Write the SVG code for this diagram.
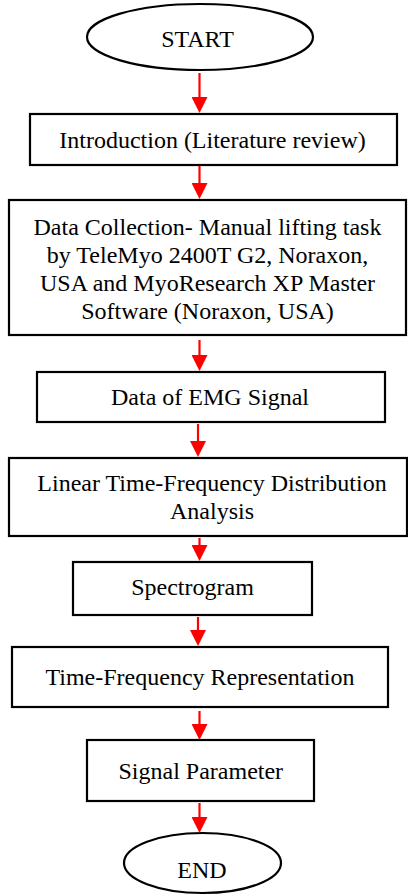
<svg xmlns="http://www.w3.org/2000/svg" width="408" height="896" viewBox="0 0 408 896">
<style>
.box{fill:#fff;stroke:#000;stroke-width:2.2}
.t{font-family:"Liberation Serif","Times New Roman",serif;font-size:24px;fill:#000;text-anchor:middle}
.c{stroke:#ff0000;stroke-width:2.2;fill:none}
</style>
<defs>
<marker id="ah" viewBox="0 0 16 16" refX="3" refY="8" markerWidth="16" markerHeight="16" markerUnits="userSpaceOnUse" orient="auto">
<path d="M0,0 L16,8 L0,16 z" fill="#ff0000"/>
</marker>
</defs>
<rect width="408" height="896" fill="#fff"/>
<g id="start"><ellipse class="box" cx="200" cy="37" rx="113" ry="33"/><text class="t" x="197.5" y="47">START</text></g>
<g id="intro"><rect class="box" x="30" y="114" width="367" height="51"/><text class="t" x="212.5" y="148">Introduction (Literature review)</text></g>
<g id="datacollection"><rect class="box" x="9" y="200" width="397" height="135"/>
<text class="t" x="207.5" y="235">Data Collection- Manual lifting task</text>
<text class="t" x="207.5" y="263">by TeleMyo 2400T G2, Noraxon,</text>
<text class="t" x="207.5" y="291">USA and MyoResearch XP Master</text>
<text class="t" x="207.5" y="319">Software (Noraxon, USA)</text></g>
<g id="emg"><rect class="box" x="37" y="372" width="348" height="50"/><text class="t" x="210" y="405">Data of EMG Signal</text></g>
<g id="linear"><rect class="box" x="9" y="458" width="398" height="78"/>
<text class="t" x="212" y="491">Linear Time-Frequency Distribution</text>
<text class="t" x="212" y="519">Analysis</text></g>
<g id="spectrogram"><rect class="box" x="73" y="562" width="239" height="53"/><text class="t" x="192.5" y="595">Spectrogram</text></g>
<g id="tfr"><rect class="box" x="12" y="647" width="376" height="60"/><text class="t" x="200" y="685">Time-Frequency Representation</text></g>
<g id="signal"><rect class="box" x="87" y="740" width="227" height="61"/><text class="t" x="200.8" y="779">Signal Parameter</text></g>
<g id="end"><ellipse class="box" cx="202.5" cy="863" rx="78.5" ry="30"/><text class="t" x="202" y="878">END</text></g>
<g id="connectors">
<line class="c" x1="199.5" y1="73" x2="199.5" y2="100" marker-end="url(#ah)"/>
<line class="c" x1="199.5" y1="166" x2="199.5" y2="186" marker-end="url(#ah)"/>
<line class="c" x1="199.5" y1="340" x2="199.5" y2="358" marker-end="url(#ah)"/>
<line class="c" x1="198" y1="424" x2="198" y2="444" marker-end="url(#ah)"/>
<line class="c" x1="199.5" y1="538" x2="199.5" y2="548" marker-end="url(#ah)"/>
<line class="c" x1="198" y1="617" x2="198" y2="633" marker-end="url(#ah)"/>
<line class="c" x1="199.5" y1="711" x2="199.5" y2="727" marker-end="url(#ah)"/>
<line class="c" x1="199.5" y1="803" x2="199.5" y2="820" marker-end="url(#ah)"/>
</g>
</svg>
